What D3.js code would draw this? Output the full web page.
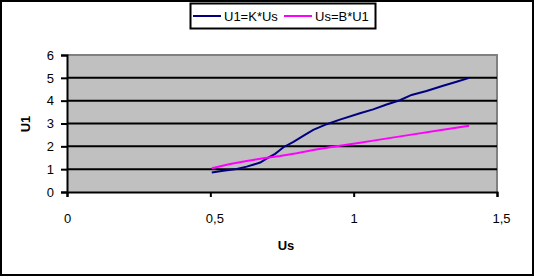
<!DOCTYPE html>
<html><head><meta charset="utf-8">
<script src="https://cdn.jsdelivr.net/npm/d3@7"></script>
<style>body{margin:0;background:#fff}svg{display:block}text{font-family:"Liberation Sans",Arial,sans-serif}</style>
</head><body>
<svg id="c" width="534" height="276"></svg>
<script>
const seriesNames = ["U1=K*Us", "Us=B*U1"];
const seriesColors = ["#000080", "#FF00FF"];
const blueX = [0.505,0.545,0.592,0.627,0.674,0.699,0.726,0.755,0.79,0.824,0.859,0.906,0.952,1.022,1.068,1.115,1.161,1.202,1.254,1.312,1.359,1.403];
const blueY = [0.85,0.93,1.01,1.11,1.29,1.48,1.67,1.96,2.2,2.46,2.72,2.97,3.17,3.45,3.62,3.83,4.02,4.25,4.42,4.65,4.83,5.0];
const magX = [0.505,0.569,0.627,0.685,0.743,0.801,0.859,0.917,0.952,1.022,1.068,1.185,1.3,1.403];
const magY = [1.04,1.23,1.36,1.48,1.58,1.7,1.84,1.96,2.03,2.16,2.25,2.48,2.7,2.9];
const xTicks = [0, 0.5, 1, 1.5];
const xTickLabels = ["0", "0,5", "1", "1,5"];
const yTicks = [0,1,2,3,4,5,6];
const xTitle = "Us", yTitle = "U1";

const svg = d3.select("#c");
const W = 534, H = 276;
svg.append("rect").attr("x",1).attr("y",1).attr("width",W-2).attr("height",H-2).attr("fill","#fff").attr("stroke","#000").attr("stroke-width",2);

const L = 67, R = 497, T = 55, B = 192;
const x = d3.scaleLinear().domain([0,1.5]).range([L,R]);
const y = d3.scaleLinear().domain([0,6]).range([B,T]);

svg.append("rect").attr("x",L).attr("y",T).attr("width",R-L).attr("height",B-T).attr("fill","#C0C0C0");
svg.append("path").attr("d",`M${L},${T}H${R}V${B}`).attr("fill","none").attr("stroke","#808080").attr("stroke-width",2);
svg.append("g").selectAll("line").data(yTicks.filter(d=>d>0&&d<6)).join("line")
  .attr("x1",L).attr("x2",R).attr("y1",d=>y(d)).attr("y2",d=>y(d)).attr("stroke","#000").attr("stroke-width",2);

const yAxis = d3.axisLeft(y).tickValues(yTicks).tickSize(6).tickPadding(7).tickFormat(d3.format("d"));
const gy = svg.append("g").attr("transform",`translate(${L},0)`).call(yAxis);
const xAxis = d3.axisBottom(x).tickValues(xTicks).tickSize(5).tickPadding(17).tickFormat((d,i)=>xTickLabels[i]);
const gx = svg.append("g").attr("transform",`translate(0,${B})`).call(xAxis);
[gx,gy].forEach(g=>{
  g.select(".domain").attr("stroke","#000").attr("stroke-width",2);
  g.selectAll(".tick line").attr("stroke","#000").attr("stroke-width",2);
  g.selectAll(".tick text").attr("fill","#000").style("font-size","13px").style("font-family","'Liberation Sans',Arial,sans-serif");
});
gx.selectAll(".tick text").attr("dx",(d,i)=>xTickLabels[i].includes(",")?4:0);

const line = d3.line().x(d=>x(d[0])).y(d=>y(d[1]));
const data = [d3.zip(blueX,blueY), d3.zip(magX,magY)];
svg.append("g").selectAll("path").data(data).join("path")
  .attr("d",line).attr("fill","none").attr("stroke",(d,i)=>seriesColors[i]).attr("stroke-width",2);

svg.append("text").attr("x",286).attr("y",250).attr("text-anchor","middle").style("font-size","13px").style("font-weight","bold").text(xTitle);
svg.append("text").attr("transform","translate(30,124) rotate(-90)").attr("text-anchor","middle").style("font-size","13px").style("font-weight","bold").text(yTitle);

const lg = svg.append("g");
lg.append("rect").attr("x",190.5).attr("y",3.5).attr("width",185).attr("height",25).attr("fill","#fff").attr("stroke","#000").attr("stroke-width",2);
const lx = [193, 284];
seriesNames.forEach((n,i)=>{
  lg.append("line").attr("x1",lx[i]).attr("x2",lx[i]+28).attr("y1",16).attr("y2",16).attr("stroke",seriesColors[i]).attr("stroke-width",2);
  lg.append("text").attr("x",lx[i]+31).attr("y",20.5).style("font-size","13px").text(n);
});
</script>
</body></html>
